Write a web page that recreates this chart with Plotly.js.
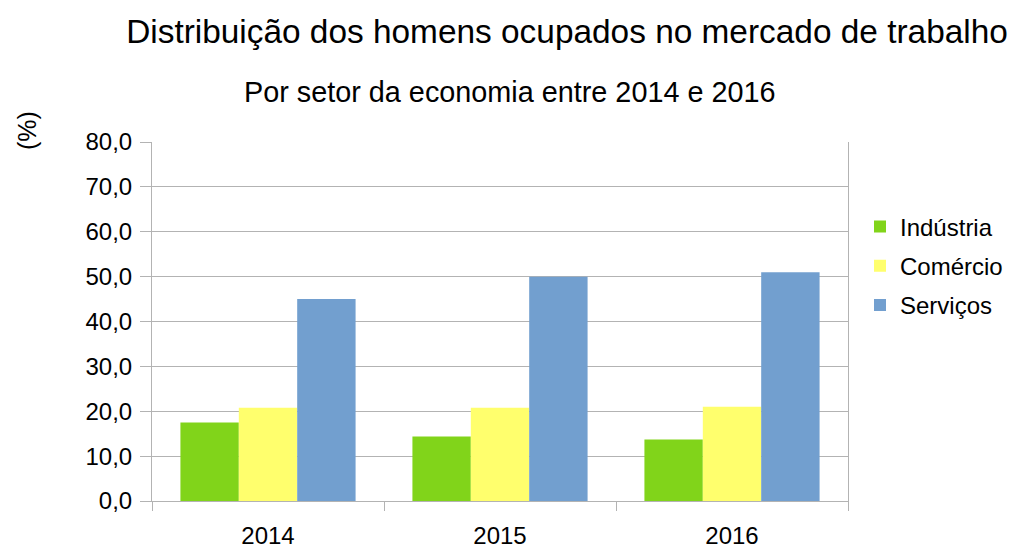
<!DOCTYPE html>
<html>
<head>
<meta charset="utf-8">
<script src="https://cdn.plot.ly/plotly-3.0.1.min.js"></script>
<style>html,body{margin:0;padding:0;background:#fff}#chart{width:1015px;height:549px}</style>
</head>
<body>
<div id="chart"></div>
<script>
const years = ["2014", "2015", "2016"];
const industria = [17.5, 14.4, 13.7];
const comercio = [20.8, 20.8, 21.0];
const servicos = [45.0, 50.0, 51.0];
const seriesNames = ["Indústria", "Comércio", "Serviços"];
const colors = ["#81d41a", "#ffff6d", "#729fcf"];

const font = "Liberation Sans, Arial, sans-serif";
const data = [industria, comercio, servicos].map((vals, i) => ({
  type: "bar",
  x: years,
  y: vals,
  name: seriesNames[i],
  legendgroup: "g" + i,
  marker: {color: colors[i], line: {width: 0}},
  hoverinfo: "none"
}));

const layout = {
  width: 1015, height: 549,
  paper_bgcolor: "#fff", plot_bgcolor: "#fff",
  margin: {l: 152, r: 167, t: 142, b: 48},
  font: {family: font, color: "#000", size: 24},
  separators: ",.",
  barmode: "group",
  bargap: 0.245,
  bargroupgap: 0,
  title: {
    text: "Distribuição dos homens ocupados no mercado de trabalho",
    font: {family: font, size: 33.4, color: "#000"},
    x: 567 / 1015, xanchor: "center", xref: "container",
    y: 1 - 31 / 549, yanchor: "middle", yref: "container"
  },
  annotations: [
    {text: "Por setor da economia entre 2014 e 2016", xref: "paper", yref: "paper",
     x: (510 - 152) / 696, y: 1 + (142 - 92) / 359.5, xanchor: "center", yanchor: "middle",
     showarrow: false, font: {family: font, size: 28.8, color: "#000"}},
    {text: "(%)", xref: "paper", yref: "paper",
     x: (27 - 152) / 696, y: 1 + (142 - 131) / 359.5, xanchor: "center", yanchor: "middle",
     textangle: -90, showarrow: false, font: {family: font, size: 25, color: "#000"}}
  ],
  xaxis: {
    type: "category",
    showgrid: false,
    showline: true, linecolor: "#b3b3b3", linewidth: 1, mirror: false,
    ticks: "outside", tickson: "boundaries", ticklen: 9, tickcolor: "#b3b3b3",
    ticklabelstandoff: 13,
    tickfont: {family: font, size: 24, color: "#000"},
    zeroline: false, fixedrange: true
  },
  yaxis: {
    range: [0, 80], dtick: 10, tickformat: ".1f",
    showgrid: true, gridcolor: "#b3b3b3", gridwidth: 1,
    showline: true, linecolor: "#b3b3b3", linewidth: 1, mirror: true,
    ticks: "outside", ticklen: 11, tickcolor: "#b3b3b3",
    ticklabelstandoff: 3,
    tickfont: {family: font, size: 24, color: "#000"},
    zeroline: false, fixedrange: true
  },
  legend: {
    xref: "container", yref: "container",
    x: 860 / 1015, xanchor: "left", y: 1 - 266 / 549, yanchor: "middle",
    font: {family: font, size: 24, color: "#000"},
    traceorder: "grouped",
    itemwidth: 30, tracegroupgap: 5, bgcolor: "rgba(0,0,0,0)"
  },
  showlegend: true
};

Plotly.newPlot("chart", data, layout, {staticPlot: true, displayModeBar: false});
</script>
</body>
</html>
